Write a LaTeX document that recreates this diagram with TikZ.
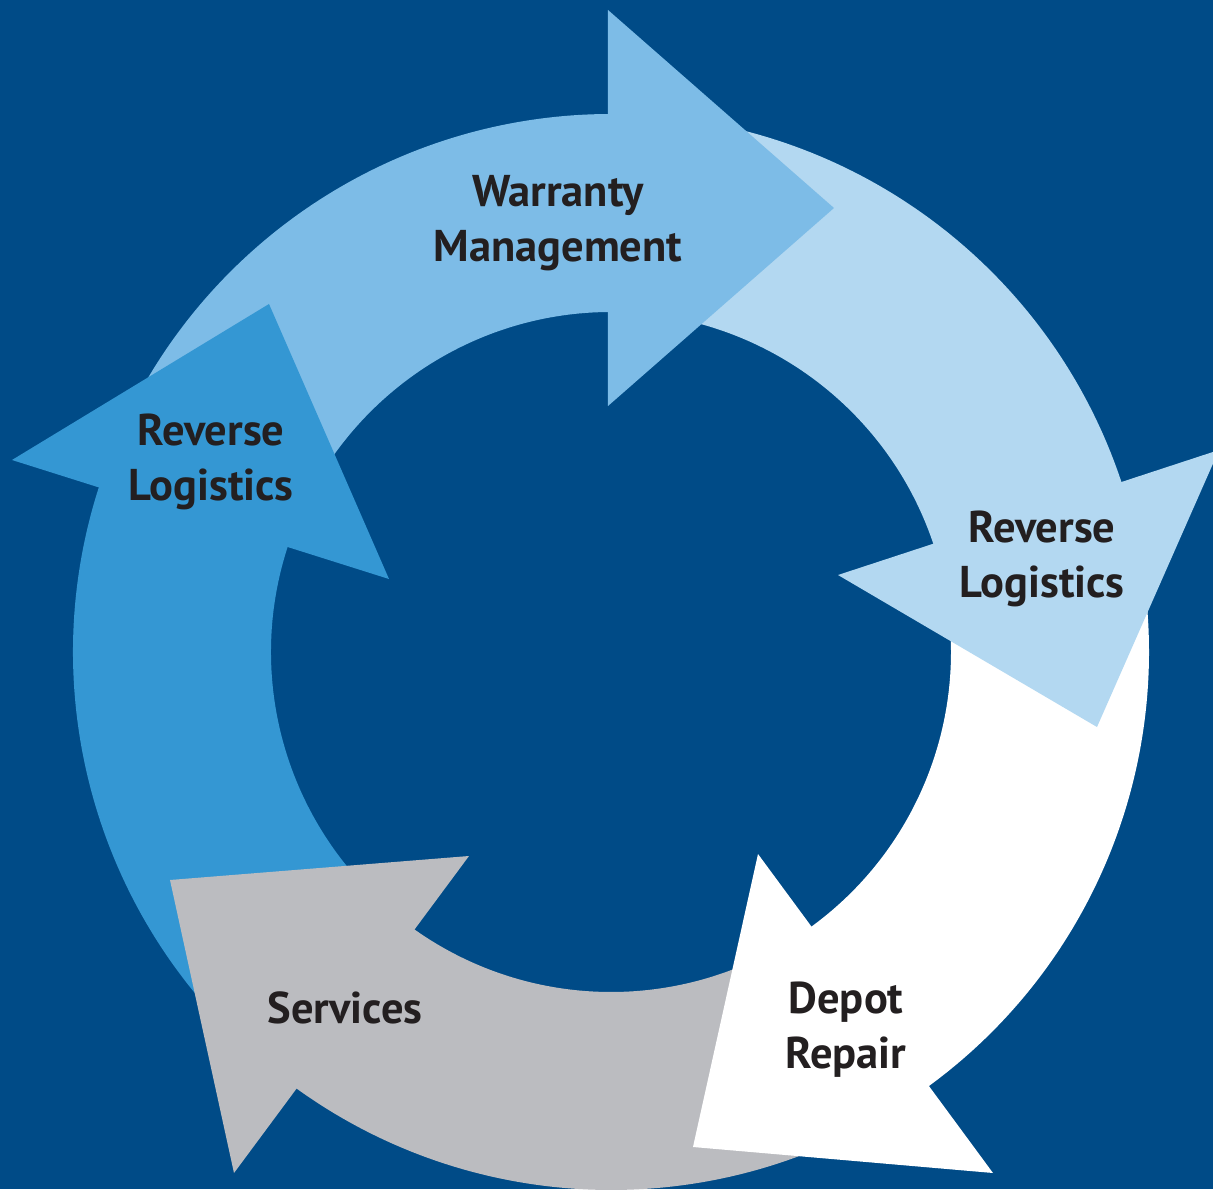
\documentclass[tikz,border=0pt]{standalone}
\usepackage{fontspec}
\setmainfont{PT Sans}
\usetikzlibrary{calc}
\definecolor{bgblue}{RGB}{0,75,135}
\definecolor{warrantyblue}{RGB}{125,188,231}
\definecolor{paleblue}{RGB}{179,216,241}
\definecolor{midblue}{RGB}{52,151,211}
\definecolor{servgray}{RGB}{187,188,192}
\definecolor{textdark}{RGB}{35,31,32}
\begin{document}
\begin{tikzpicture}[x=1pt,y=1pt,
  cyclelabel/.style={font=\bfseries\fontsize{44.5}{55}\selectfont,
    text=textdark, inner sep=0pt, anchor=base}]
% background
\fill[bgblue] (-611,-537) rectangle (602,652);
\useasboundingbox (-611,-537) rectangle (602,652);
% ring segments; each starts just past the previous head's base and runs
% clockwise a little past the base of its own head, so both joints are
% hidden under the heads and no seam shows
\foreach \a/\b/\c in {161/89/warrantyblue, 89.5/17/paleblue,
                      17.5/-55.5/white, -55/-127.5/servgray,
                      -127/-199.5/midblue}{
  \fill[\c] (\a:538) arc[start angle=\a, end angle=\b, radius=538]
    -- (\b:340) arc[start angle=\b, end angle=\a, radius=340] -- cycle;
}
% arrow heads: inner base corner / outer base corner / tip
\foreach \ix/\iy/\ox/\oy/\tx/\ty/\c in {
    -3/246/-3/642/223/444/warrantyblue,
    227/77/608/202/486/-75/paleblue,
    147/-202/382/-521/82/-495/white,
    -142/-204/-377/-521/-441/-228/servgray,
    -222/73/-599/192/-342/348/midblue}{
  \fill[\c] (\ix,\iy) -- (\ox,\oy) -- (\tx,\ty) -- cycle;
}
% labels
\node[cyclelabel] (warranty) at (-53,445)
  {\begin{tabular}[t]{@{}c@{}}Warranty\\Management\end{tabular}};
\node[cyclelabel] (revleft) at (-400,206)
  {\begin{tabular}[t]{@{}c@{}}Reverse\\Logistics\end{tabular}};
\node[cyclelabel] (revright) at (431,110)
  {\begin{tabular}[t]{@{}c@{}}Reverse\\Logistics\end{tabular}};
\node[cyclelabel] (depot) at (235,-361)
  {\begin{tabular}[t]{@{}c@{}}Depot\\Repair\end{tabular}};
\node[cyclelabel] (services) at (-266,-371) {Services};
\end{tikzpicture}
\end{document}
